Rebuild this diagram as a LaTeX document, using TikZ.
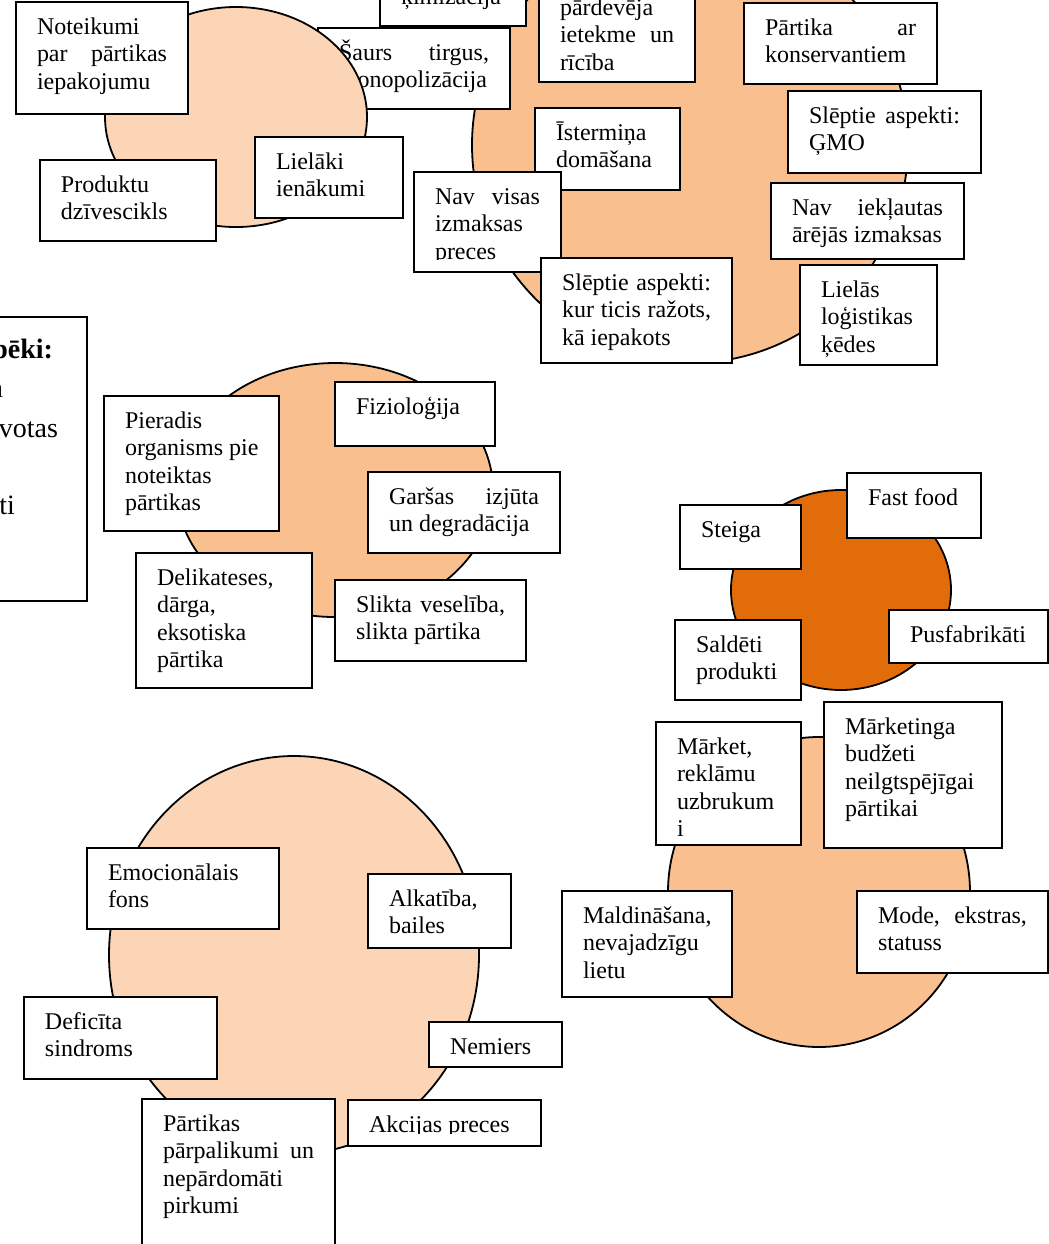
\documentclass[tikz,border=0pt]{standalone}
\usepackage{fontspec}
\setmainfont{Liberation Serif}
\definecolor{lightp}{HTML}{FBD5B5}
\definecolor{midp}{HTML}{F9BF8F}
\definecolor{darko}{HTML}{E36C0A}
\newlength\jw
\newcommand{\J}[1]{\makebox[\jw][s]{#1}}
\tikzset{
  boxst/.style={draw=black, fill=white, line width=0.7pt, rectangle, inner sep=0pt, outer sep=0pt, anchor=north west},
  txt/.style={inner sep=0pt, outer sep=0pt, anchor=base west, font=\fontsize{12}{13.8}\selectfont},
  bigtxt/.style={inner sep=0pt, outer sep=0pt, anchor=base east, font=\fontsize{14}{16}\selectfont},
  blob/.style={draw=black, line width=0.9pt},
}
% name, x1, y1, x2, y2, lines
\newcommand{\bx}[6]{%
  \node[boxst, minimum width={(#4-#2)*0.5pt}, minimum height={(#5-#3)*0.5pt}] (#1) at (#2,#3) {};
  \node[txt] (#1t) at ([shift={(21,32)}]#1.north west) {\pgfmathsetlength{\jw}{(#4-#2-42)*0.5pt}\begin{tabular}[t]{@{}l@{}}#6\end{tabular}};
}
% same, with text clipped at y = #7
\newcommand{\bxc}[7]{%
  \node[boxst, minimum width={(#4-#2)*0.5pt}, minimum height={(#5-#3)*0.5pt}] (#1) at (#2,#3) {};
  \begin{scope}
    \clip (#2,#3) rectangle (#4,#7);
    \node[txt] (#1t) at ([shift={(21,32)}]#1.north west) {\pgfmathsetlength{\jw}{(#4-#2-42)*0.5pt}\begin{tabular}[t]{@{}l@{}}#6\end{tabular}};
  \end{scope}
}
\begin{document}
\begin{tikzpicture}[x=0.5pt, y=-0.5pt]
\useasboundingbox (0,0) rectangle (1049,1244);
\clip (0,0) rectangle (1049,1244);

% ---------- top right cluster ----------
\draw[blob, fill=midp] (690,145) circle [radius=109pt];
\bx{kim}{380}{-28}{526}{26}{ķīmizācija}
\bx{saurs}{318}{28}{510}{109}{\J{Šaurs tirgus,}\\ monopolizācija}

% ---------- top left cluster ----------
\draw[blob, fill=lightp] (236,117) ellipse [x radius=65.5pt, y radius=55pt];
\bx{note}{16}{2}{188}{114}{Noteikumi\\ \J{par pārtikas}\\ iepakojumu}
\bx{prod}{40}{160}{216}{241}{Produktu\\ dzīvescikls}
\bx{liel}{255}{137}{403}{218}{Lielāki\\ ienākumi}

\bx{pard}{539}{-17}{695}{82}{pārdevēja\\ \J{ietekme un}\\ rīcība}
\bx{part}{744}{3}{937}{84}{\J{Pārtika ar}\\ konservantiem}
\bx{gmo}{788}{91}{981}{173}{\J{Slēptie aspekti:}\\ ĢMO}
\bx{ist}{535}{108}{680}{190}{Īstermiņa\\ domāšana}
\bxc{navv}{414}{172}{561}{272}{\J{Nav visas}\\ izmaksas\\ preces}{259}
\bx{navi}{771}{183}{964}{259}{\J{Nav iekļautas}\\ ārējās izmaksas}
\bx{slk}{541}{258}{732}{363}{\J{Slēptie aspekti:}\\ \J{kur ticis ražots,}\\ kā iepakots}
\bx{lielas}{800}{265}{937}{365}{Lielās\\ loģistikas\\ ķēdes}

% ---------- middle left cluster ----------
\draw[blob, fill=midp] (335,490) ellipse [x radius=79pt, y radius=63.5pt];
\bx{pier}{104}{396}{279}{531}{Pieradis\\ organisms pie\\ noteiktas\\ pārtikas}
\bx{fiz}{335}{382}{495}{446}{Fizioloģija}
\bx{gars}{368}{472}{560}{553}{\J{Garšas izjūta}\\ un degradācija}
\bx{del}{136}{553}{312}{688}{Delikateses,\\ dārga,\\ eksotiska\\ pārtika}
\bx{slik}{335}{580}{526}{661}{\J{Slikta veselība,}\\ slikta pārtika}

% ---------- partly visible box at the left edge ----------
\node[boxst, minimum width=63.5pt, minimum height=142pt] (lbox) at (-40,317) {};
\node[bigtxt, font=\fontsize{14}{16}\selectfont\bfseries] (lb1) at (53,358) {pēki:};
\node[bigtxt] (lb2) at (3,397) {a};
\node[bigtxt] (lb3) at (58,437) {votas};
\node[bigtxt] (lb4) at (15,514) {ti};

% ---------- right clusters ----------
\draw[blob, fill=darko] (841,590) ellipse [x radius=55pt, y radius=50pt];
\bx{steiga}{680}{505}{801}{569}{Steiga}
\bx{fast}{847}{473}{981}{538}{Fast food}
\bx{sald}{675}{620}{801}{700}{Saldēti\\ produkti}
\bx{pusf}{889}{610}{1048}{663}{Pusfabrikāti}

\draw[blob, fill=midp] (819,892) ellipse [x radius=75.5pt, y radius=77.5pt];
\bxc{mark}{656}{722}{801}{845}{Mārket,\\ reklāmu\\ uzbrukum\\ i}{835}
\bx{markb}{824}{702}{1002}{848}{Mārketinga\\ budžeti\\ neilgtspējīgai\\ pārtikai}
\bx{mald}{562}{891}{732}{997}{Maldināšana,\\ nevajadzīgu\\ lietu}
\bx{mode}{857}{891}{1048}{973}{\J{Mode, ekstras,}\\ statuss}

% ---------- bottom left cluster ----------
\draw[blob, fill=lightp] (294,955) ellipse [x radius=92.5pt, y radius=99.5pt];
\bx{emo}{87}{848}{279}{929}{Emocionālais\\ fons}
\bx{alk}{368}{874}{511}{948}{Alkatība,\\ bailes}
\bx{def}{24}{997}{217}{1079}{Deficīta\\ sindroms}
\bx{nem}{429}{1022}{562}{1067}{Nemiers}
\bx{part2}{142}{1099}{335}{1262}{Pārtikas\\ \J{pārpalikumi un}\\ nepārdomāti\\ pirkumi}
\bxc{akc}{348}{1100}{541}{1146}{Akcijas preces}{1133}
\end{tikzpicture}
\end{document}
